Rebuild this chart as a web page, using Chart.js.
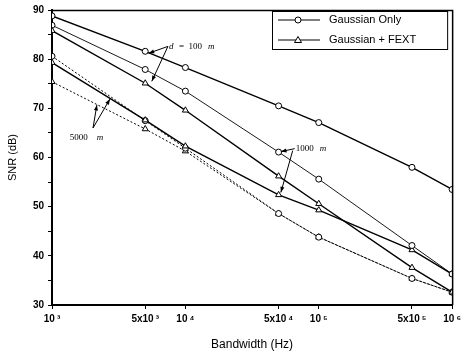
<!DOCTYPE html>
<html>
<head>
<meta charset="utf-8">
<script src="https://cdn.jsdelivr.net/npm/chart.js@4"></script>
<style>
  html, body { margin: 0; padding: 0; background: #fff; }
  #wrap { width: 465px; height: 359px; }
</style>
</head>
<body>
<div id="wrap"><canvas id="snrChart"></canvas></div>
<script>
// bandwidth points (Hz) and tick labels
const bandwidth = [1e3, 5e3, 1e4, 5e4, 1e5, 5e5, 1e6];
const xTickLabels = ['10\u2009\u00B3', '5x10\u2009\u00B3', '10\u2009\u2074', '5x10\u2009\u2074', '10\u2009\u2075', '5x10\u2009\u2075', '10\u2009\u2076'];

// SNR (dB)
const go100  = [88.8, 81.6, 78.3, 70.5, 67.1, 58.0, 53.5];
const gf100  = [85.8, 75.1, 69.6, 56.2, 50.6, 37.6, 32.6];
const go1000 = [86.9, 77.9, 73.5, 61.1, 55.6, 42.1, 36.3];
const gf1000 = [79.3, 67.6, 62.3, 52.4, 49.3, 41.2, 36.3];
const go5000 = [80.6, 67.5, 61.9, 48.6, 43.8, 35.4, 32.6];
const gf5000 = [75.4, 65.8, 61.3, 48.6, 43.8, 35.4, 32.6];

const legendLabels = ['Gaussian Only', 'Gaussian + FEXT'];

const FONT = "'Liberation Sans', Arial, sans-serif";
const SERIF = "'Liberation Serif', 'Times New Roman', serif";

function pts(values) {
    return bandwidth.map((b, i) => ({ x: b, y: values[i] }));
}

function series(label, values, marker, width, dash) {
    return {
        label,
        data: pts(values),
        borderColor: '#000',
        borderWidth: width,
        borderDash: dash || [],
        pointStyle: marker,
        pointRadius: marker === 'triangle' ? 3.5 : 3,
        pointBorderWidth: 1,
        pointBorderColor: '#000',
        pointBackgroundColor: '#fff',
        tension: 0,
        fill: false
    };
}

function arrow(ctx, x1, y1, x2, y2) {
    const a = Math.atan2(y2 - y1, x2 - x1);
    ctx.beginPath();
    ctx.moveTo(x1, y1);
    ctx.lineTo(x2, y2);
    ctx.stroke();
    ctx.beginPath();
    ctx.moveTo(x2, y2);
    ctx.lineTo(x2 - 6 * Math.cos(a - 0.35), y2 - 6 * Math.sin(a - 0.35));
    ctx.lineTo(x2 - 6 * Math.cos(a + 0.35), y2 - 6 * Math.sin(a + 0.35));
    ctx.closePath();
    ctx.fill();
}

// top/right frame, distance labels with arrows, boxed legend
const extras = {
    id: 'extras',
    afterDraw(chart) {
        const ctx = chart.ctx;
        const area = chart.chartArea;
        const xs = chart.scales.x, ys = chart.scales.y;
        const px = v => xs.getPixelForValue(v);
        const py = v => ys.getPixelForValue(v);

        ctx.save();
        ctx.strokeStyle = '#000';
        ctx.fillStyle = '#000';
        ctx.lineWidth = 1.5;
        ctx.beginPath();
        ctx.moveTo(area.left, area.top + 0.5);
        ctx.lineTo(area.right + 0.5, area.top + 0.5);
        ctx.lineTo(area.right + 0.5, area.bottom);
        ctx.stroke();
        ctx.lineWidth = 1;

        // d = 100 m
        let ox = px(7.4e3), oy = py(82.6);
        arrow(ctx, ox, oy, px(5.3e3), py(81.2));
        arrow(ctx, ox, oy, px(5.6e3), py(75.5));
        ctx.font = 'italic 9px ' + SERIF;
        ctx.textBaseline = 'middle';
        ctx.fillText('d', ox + 1, oy);
        ctx.font = '9px ' + SERIF;
        ctx.fillText('=  100', ox + 11, oy);
        ctx.font = 'italic 9px ' + SERIF;
        ctx.fillText('m', ox + 40, oy);

        // 1000 m
        ox = px(6.6e4); oy = py(61.8);
        arrow(ctx, ox, oy, px(5.2e4), py(61.2));
        arrow(ctx, ox - 2, oy + 2, px(5.2e4), py(52.9));
        ctx.font = '9px ' + SERIF;
        ctx.fillText('1000', ox + 1, oy);
        ctx.font = 'italic 9px ' + SERIF;
        ctx.fillText('m', ox + 25, oy);

        // 5000 m
        ox = px(2.03e3); oy = py(66.0);
        arrow(ctx, ox, oy, px(2.17e3), py(70.7));
        arrow(ctx, ox, oy, px(2.72e3), py(71.9));
        ctx.font = '9px ' + SERIF;
        ctx.fillText('5000', px(1.36e3), py(64.0));
        ctx.font = 'italic 9px ' + SERIF;
        ctx.fillText('m', px(1.36e3) + 27, py(64.0));

        // legend
        const L = 272, T = 11, R = area.right - 5, B = 49;
        ctx.strokeRect(L + 0.5, T + 0.5, R - L, B - T);
        ctx.font = '11px ' + FONT;
        const rows = [T + 9, T + 29];
        const markers = ['circle', 'triangle'];
        rows.forEach((y, i) => {
            ctx.beginPath();
            ctx.moveTo(L + 6, y);
            ctx.lineTo(L + 48, y);
            ctx.stroke();
            ctx.beginPath();
            if (markers[i] === 'circle') {
                ctx.arc(L + 26, y, 3, 0, Math.PI * 2);
            } else {
                ctx.moveTo(L + 26, y - 3.5);
                ctx.lineTo(L + 29.5, y + 2.5);
                ctx.lineTo(L + 22.5, y + 2.5);
                ctx.closePath();
            }
            ctx.fillStyle = '#fff';
            ctx.fill();
            ctx.stroke();
            ctx.fillStyle = '#000';
            ctx.fillText(legendLabels[i], L + 57, y);
        });
        ctx.restore();
    }
};

new Chart(document.getElementById('snrChart'), {
    type: 'line',
    data: {
        datasets: [
            series('d=100 m, Gaussian Only', go100, 'circle', 1.4),
            series('d=100 m, Gaussian + FEXT', gf100, 'triangle', 1.4),
            series('d=1000 m, Gaussian Only', go1000, 'circle', 0.9),
            series('d=1000 m, Gaussian + FEXT', gf1000, 'triangle', 1.4),
            series('d=5000 m, Gaussian Only', go5000, 'circle', 1, [2, 2]),
            series('d=5000 m, Gaussian + FEXT', gf5000, 'triangle', 1, [2, 2])
        ]
    },
    options: {
        responsive: true,
        maintainAspectRatio: false,
        animation: false,
        layout: { padding: { top: 7, right: 12, left: 0, bottom: 0 } },
        plugins: {
            legend: { display: false },
            tooltip: { enabled: false }
        },
        scales: {
            x: {
                type: 'logarithmic',
                min: 1e3,
                max: 1e6,
                afterBuildTicks: scale => { scale.ticks = bandwidth.map(v => ({ value: v })); },
                afterFit: scale => { scale.height = 54; },
                grid: { display: true, drawOnChartArea: false, drawTicks: true, tickLength: 4, color: '#000' },
                border: { display: true, color: '#000', width: 2 },
                ticks: {
                    autoSkip: false,
                    maxRotation: 0,
                    padding: 4,
                    color: '#000',
                    font: { family: FONT, size: 10, weight: 'bold' },
                    callback: (v, i) => xTickLabels[i]
                },
                title: {
                    display: true,
                    text: 'Bandwidth (Hz)',
                    color: '#000',
                    font: { family: FONT, size: 12 },
                    padding: { top: 0, bottom: 7 }
                }
            },
            y: {
                min: 30,
                max: 90,
                afterFit: scale => { scale.width = 52; },
                grid: { display: true, drawOnChartArea: false, drawTicks: true, tickLength: 4, color: '#000' },
                border: { display: true, color: '#000', width: 2 },
                ticks: {
                    stepSize: 5,
                    padding: 4,
                    color: '#000',
                    font: { family: FONT, size: 10, weight: 'bold' },
                    callback: v => (v % 10 === 0 ? v : '')
                },
                title: {
                    display: true,
                    text: 'SNR (dB)',
                    color: '#000',
                    font: { family: FONT, size: 11 },
                    padding: { top: 6, bottom: 0 }
                }
            }
        }
    },
    plugins: [extras]
});
</script>
</body>
</html>
